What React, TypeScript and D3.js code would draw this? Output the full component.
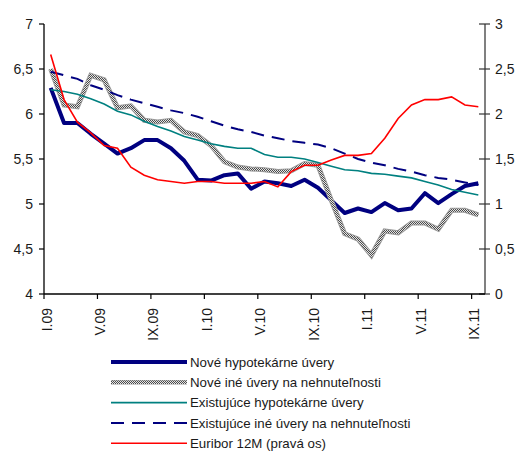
import React from "react";
import * as d3 from "d3";

const months = ["I.09","II.09","III.09","IV.09","V.09","VI.09","VII.09","VIII.09","IX.09","X.09","XI.09","XII.09",
  "I.10","II.10","III.10","IV.10","V.10","VI.10","VII.10","VIII.10","IX.10","X.10","XI.10","XII.10",
  "I.11","II.11","III.11","IV.11","V.11","VI.11","VII.11","VIII.11","IX.11"];

const noveHypotekarne = [6.29, 5.90, 5.90, 5.78, 5.67, 5.56, 5.62, 5.71, 5.71, 5.62, 5.48, 5.27, 5.26, 5.32, 5.34, 5.17, 5.25, 5.23, 5.20, 5.27, 5.18, 5.04, 4.90, 4.95, 4.91, 5.01, 4.93, 4.95, 5.12, 5.01, 5.11, 5.20, 5.23];
const noveIne = [6.50, 6.10, 6.08, 6.43, 6.38, 6.07, 6.09, 5.93, 5.91, 5.93, 5.80, 5.76, 5.65, 5.47, 5.41, 5.39, 5.38, 5.36, 5.37, 5.45, 5.43, 5.04, 4.67, 4.61, 4.43, 4.70, 4.68, 4.79, 4.79, 4.72, 4.93, 4.93, 4.88];
const existHypotekarne = [6.27, 6.25, 6.22, 6.17, 6.11, 6.03, 5.99, 5.92, 5.86, 5.81, 5.75, 5.71, 5.67, 5.64, 5.62, 5.62, 5.55, 5.52, 5.52, 5.50, 5.46, 5.42, 5.38, 5.37, 5.34, 5.33, 5.31, 5.29, 5.25, 5.21, 5.16, 5.13, 5.10];
const existIne = [6.47, 6.43, 6.39, 6.32, 6.27, 6.21, 6.16, 6.12, 6.08, 6.04, 6.01, 5.97, 5.92, 5.87, 5.83, 5.80, 5.76, 5.73, 5.70, 5.68, 5.66, 5.62, 5.56, 5.50, 5.46, 5.43, 5.39, 5.36, 5.32, 5.29, 5.27, 5.24, 5.21];
const euribor = [2.66, 2.16, 1.91, 1.79, 1.65, 1.62, 1.41, 1.32, 1.27, 1.25, 1.23, 1.25, 1.25, 1.23, 1.23, 1.23, 1.25, 1.19, 1.36, 1.43, 1.43, 1.49, 1.54, 1.54, 1.56, 1.73, 1.95, 2.10, 2.16, 2.16, 2.19, 2.10, 2.08];

const leftTicks = [4, 4.5, 5, 5.5, 6, 6.5, 7];
const rightTicks = [0, 0.5, 1, 1.5, 2, 2.5, 3];
const legendLabels = [
  "Nové hypotekárne úvery",
  "Nové iné úvery na nehnuteľnosti",
  "Existujúce hypotekárne úvery",
  "Existujúce iné úvery na nehnuteľnosti",
  "Euribor 12M (pravá os)",
];

const FONT = "'Liberation Sans', Arial, sans-serif";
const fmt = (v: number) => String(v).replace(".", ",");

export default function App() {
  const W = 517, H = 451;
  const L = 44, R = 485, T = 24, B = 294;
  const n = months.length;
  const x = d3.scaleLinear().domain([0, n]).range([L, R]);
  const yL = d3.scaleLinear().domain([4, 7]).range([B, T]);
  const yR = d3.scaleLinear().domain([0, 3]).range([B, T]);
  const lineL = d3.line<number>().x((_, i) => x(i + 0.5)).y((d) => yL(d));
  const lineR = d3.line<number>().x((_, i) => x(i + 0.5)).y((d) => yR(d));
  const tickIdx = d3.range(0, n, 4);

  const legendStyles = [
    { stroke: "#000080", width: 4, dash: undefined as string | undefined },
    { stroke: "url(#dither)", width: 3.5, dash: undefined },
    { stroke: "#008080", width: 1.6, dash: undefined },
    { stroke: "#000080", width: 2, dash: "13 8" },
    { stroke: "#ff0000", width: 1.6, dash: undefined },
  ];

  return (
    <div style={{ position: "absolute", left: 0, top: 0 }}>
      <svg width={W} height={H} style={{ display: "block", background: "#fff" }} fontFamily={FONT}>
        <defs>
          <pattern id="dither" width="2" height="2" patternUnits="userSpaceOnUse">
            <rect width="2" height="2" fill="#e6e6e6" />
            <rect x="0" y="0" width="1" height="1" fill="#4a4a4a" />
            <rect x="1" y="1" width="1" height="1" fill="#4a4a4a" />
          </pattern>
        </defs>

        {/* series */}
        <path d={lineL(noveHypotekarne) || ""} fill="none" stroke="#000080" strokeWidth={4} strokeLinejoin="round" />
        <path d={lineL(noveIne) || ""} fill="none" stroke="#9a9a9a" strokeWidth={5} strokeLinejoin="miter" />
        <path d={lineL(noveIne) || ""} fill="none" stroke="url(#dither)" strokeWidth={3} strokeLinejoin="miter" />
        <path d={lineL(existHypotekarne) || ""} fill="none" stroke="#008080" strokeWidth={1.6} />
        <path d={lineL(existIne) || ""} fill="none" stroke="#000080" strokeWidth={2} strokeDasharray="13 8" />
        <path d={lineR(euribor) || ""} fill="none" stroke="#ff0000" strokeWidth={1.6} />

        {/* left axis */}
        <line x1={L} x2={L} y1={T} y2={B} stroke="#000" strokeWidth={1.3} />
        {leftTicks.map((t) => (
          <g key={"l" + t}>
            <line x1={L - 5} x2={L} y1={yL(t)} y2={yL(t)} stroke="#000" strokeWidth={1.2} />
            <text x={L - 11} y={yL(t)} dy="0.36em" textAnchor="end" fontSize={14} fill="#1a1a1a">{fmt(t)}</text>
          </g>
        ))}

        {/* right axis */}
        <line x1={R} x2={R} y1={T} y2={B} stroke="#808080" strokeWidth={2} />
        {rightTicks.map((t) => (
          <g key={"r" + t}>
            <line x1={R - 6} x2={R + 5} y1={yR(t)} y2={yR(t)} stroke="#333" strokeWidth={1.2} />
            <text x={R + 10} y={yR(t)} dy="0.36em" textAnchor="start" fontSize={14} fill="#1a1a1a">{fmt(t)}</text>
          </g>
        ))}

        {/* x axis */}
        <line x1={L} x2={R} y1={B} y2={B} stroke="#000" strokeWidth={1.3} />
        {tickIdx.map((i) => (
          <g key={"x" + i}>
            <line x1={x(i)} x2={x(i)} y1={B} y2={B + 5} stroke="#000" strokeWidth={1.2} />
            <text transform={`translate(${x(i) + 2.5},${B + 14}) rotate(-90)`} textAnchor="end" dy="0.36em" fontSize={14} fill="#1a1a1a">{months[i]}</text>
          </g>
        ))}

        {/* legend */}
        {legendLabels.map((lab, k) => {
          const yy = 362 + k * 20.3;
          const s = legendStyles[k];
          return (
            <g key={"lg" + k}>
              {k === 1 && <line x1={111} x2={187} y1={yy} y2={yy} stroke="#9a9a9a" strokeWidth={4.5} />}
              <line x1={111} x2={187} y1={yy} y2={yy} stroke={s.stroke} strokeWidth={s.width} strokeDasharray={s.dash} />
              <text x={190} y={yy} dy="0.36em" fontSize={13.3} fill="#1a1a1a">{lab}</text>
            </g>
          );
        })}
      </svg>
    </div>
  );
}
